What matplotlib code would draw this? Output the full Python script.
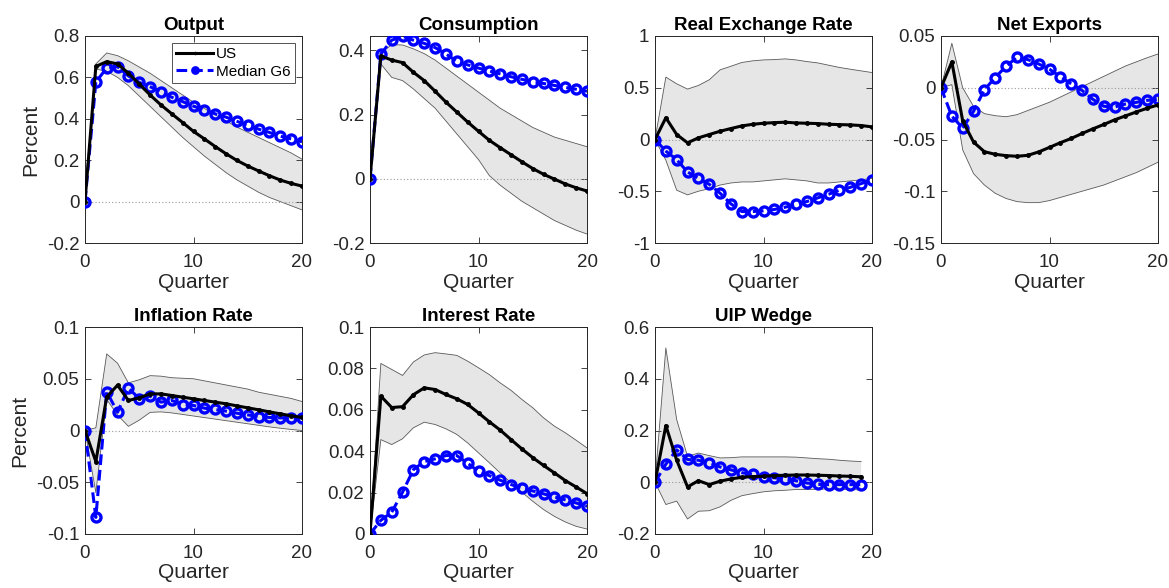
import numpy as np
import matplotlib
matplotlib.use("Agg")
import matplotlib.pyplot as plt

plt.rcParams['font.family'] = ['Liberation Sans', 'DejaVu Sans']

quarters = list(range(21))
quarters_uip = list(range(20))

titles = ["Output", "Consumption", "Real Exchange Rate", "Net Exports",
          "Inflation Rate", "Interest Rate", "UIP Wedge"]

# ---- Output
out_us = [0, 0.653, 0.676, 0.665, 0.620, 0.568, 0.515, 0.467, 0.424, 0.382, 0.339,
          0.303, 0.266, 0.231, 0.199, 0.172, 0.148, 0.125, 0.104, 0.088, 0.075]
out_g6 = [0, 0.578, 0.645, 0.652, 0.607, 0.576, 0.555, 0.530, 0.504, 0.483, 0.461,
          0.443, 0.424, 0.408, 0.388, 0.368, 0.350, 0.334, 0.316, 0.303, 0.289]
out_hi = [0, 0.665, 0.718, 0.705, 0.680, 0.650, 0.620, 0.585, 0.550, 0.515, 0.480,
          0.450, 0.420, 0.390, 0.360, 0.335, 0.310, 0.285, 0.260, 0.235, 0.205]
out_lo = [0, 0.640, 0.630, 0.600, 0.560, 0.510, 0.460, 0.410, 0.360, 0.310, 0.265,
          0.220, 0.180, 0.140, 0.105, 0.075, 0.045, 0.020, 0.000, -0.020, -0.040]

# ---- Consumption
con_us = [0, 0.383, 0.370, 0.362, 0.332, 0.306, 0.273, 0.239, 0.208, 0.177, 0.148,
          0.120, 0.097, 0.075, 0.053, 0.032, 0.014, -0.001, -0.016, -0.028, -0.038]
con_g6 = [0, 0.389, 0.432, 0.444, 0.432, 0.422, 0.409, 0.389, 0.366, 0.355, 0.345,
          0.336, 0.327, 0.318, 0.310, 0.303, 0.297, 0.291, 0.285, 0.279, 0.273]
con_hi = [0, 0.392, 0.418, 0.417, 0.405, 0.390, 0.370, 0.345, 0.320, 0.295, 0.270,
          0.245, 0.220, 0.200, 0.180, 0.160, 0.145, 0.130, 0.120, 0.110, 0.100]
con_lo = [0, 0.358, 0.316, 0.306, 0.280, 0.250, 0.220, 0.180, 0.140, 0.100, 0.060,
          0.010, -0.020, -0.045, -0.070, -0.090, -0.110, -0.130, -0.145, -0.160, -0.172]

# ---- Real exchange rate
rer_us = [0, 0.210, 0.048, -0.032, 0.016, 0.048, 0.080, 0.106, 0.131, 0.147, 0.157,
          0.163, 0.167, 0.160, 0.157, 0.154, 0.147, 0.144, 0.141, 0.135, 0.122]
rer_g6 = [0, -0.112, -0.195, -0.314, -0.375, -0.433, -0.519, -0.622, -0.696, -0.696, -0.689,
          -0.676, -0.654, -0.628, -0.599, -0.564, -0.529, -0.490, -0.462, -0.426, -0.391]
rer_hi = [0, 0.603, 0.538, 0.487, 0.522, 0.577, 0.673, 0.708, 0.744, 0.760, 0.769,
          0.772, 0.779, 0.769, 0.753, 0.740, 0.718, 0.696, 0.679, 0.663, 0.647]
rer_lo = [0, -0.200, -0.490, -0.535, -0.500, -0.475, -0.440, -0.420, -0.410, -0.410, -0.400,
          -0.390, -0.380, -0.390, -0.400, -0.420, -0.420, -0.410, -0.400, -0.390, -0.375]

# ---- Net exports
nx_us = [0, 0.025, -0.032, -0.0525, -0.0618, -0.0643, -0.0656, -0.0662, -0.0653, -0.062, -0.0576,
         -0.0531, -0.049, -0.0442, -0.0397, -0.0355, -0.031, -0.0272, -0.0234, -0.0198, -0.0166]
nx_g6 = [0, -0.0275, -0.039, -0.0227, -0.0019, 0.0099, 0.0208, 0.0294, 0.0272, 0.023, 0.0179,
         0.0106, 0.0038, -0.0026, -0.0112, -0.0179, -0.0186, -0.0157, -0.0141, -0.0122, -0.0112]
nx_hi = [0, 0.043, 0.000, -0.018, -0.025, -0.027, -0.028, -0.026, -0.022, -0.018, -0.014,
         -0.009, -0.004, 0.001, 0.006, 0.011, 0.016, 0.021, 0.025, 0.029, 0.0326]
nx_lo = [0, 0.003, -0.060, -0.083, -0.094, -0.102, -0.107, -0.110, -0.111, -0.111, -0.109,
         -0.106, -0.103, -0.100, -0.097, -0.094, -0.090, -0.086, -0.082, -0.077, -0.072]

# ---- Inflation
inf_us = [0, -0.030, 0.0325, 0.0438, 0.029, 0.0316, 0.0354, 0.0354, 0.0338, 0.0322, 0.0306,
          0.029, 0.0274, 0.0258, 0.0238, 0.0219, 0.020, 0.018, 0.0161, 0.0142, 0.0126]
inf_g6 = [0, -0.084, 0.0374, 0.0177, 0.0409, 0.0309, 0.0332, 0.0274, 0.029, 0.0251, 0.0242,
          0.0216, 0.0203, 0.0187, 0.0167, 0.0151, 0.0135, 0.0126, 0.0122, 0.0122, 0.0122]
inf_hi = [0, 0.0026, 0.074, 0.065, 0.046, 0.049, 0.053, 0.0525, 0.051, 0.0505, 0.050,
          0.048, 0.046, 0.044, 0.042, 0.040, 0.037, 0.035, 0.033, 0.031, 0.028]
inf_lo = [0, -0.060, 0.030, 0.015, 0.004, 0.010, 0.0175, 0.018, 0.017, 0.0155, 0.014,
          0.0125, 0.011, 0.0095, 0.008, 0.0065, 0.005, 0.0035, 0.0022, 0.001, 0.000]

# ---- Interest rate
ir_us = [0, 0.0666, 0.0611, 0.0615, 0.0673, 0.0706, 0.0698, 0.0674, 0.0653, 0.0626, 0.0585,
         0.0542, 0.0502, 0.0456, 0.0411, 0.0369, 0.0331, 0.0295, 0.0258, 0.0227, 0.0195]
ir_g6 = [0, 0.0066, 0.0105, 0.0202, 0.0311, 0.035, 0.0363, 0.0379, 0.0379, 0.0342, 0.0302,
         0.0282, 0.026, 0.0239, 0.0221, 0.0208, 0.0194, 0.0179, 0.0165, 0.015, 0.0134]
ir_hi = [0, 0.0824, 0.0795, 0.0766, 0.0831, 0.0865, 0.0876, 0.087, 0.0863, 0.0835, 0.0803,
         0.077, 0.073, 0.0694, 0.065, 0.061, 0.0561, 0.0521, 0.0489, 0.0453, 0.0416]
ir_lo = [0, 0.0456, 0.0432, 0.046, 0.0513, 0.054, 0.0529, 0.0508, 0.0481, 0.044, 0.0392,
         0.0344, 0.0295, 0.0247, 0.0202, 0.0158, 0.0118, 0.0085, 0.0058, 0.0037, 0.0024]

# ---- UIP wedge (quarters 0..19)
uip_us = [0, 0.219, 0.085, -0.018, 0.006, -0.009, 0.004, 0.013, 0.019, 0.022, 0.023,
          0.026, 0.027, 0.028, 0.028, 0.027, 0.026, 0.024, 0.023, 0.021]
uip_g6 = [0, 0.070, 0.125, 0.088, 0.085, 0.075, 0.059, 0.048, 0.037, 0.030, 0.022,
          0.017, 0.013, 0.006, -0.003, -0.008, -0.009, -0.009, -0.009, -0.009]
uip_hi = [0, 0.519, 0.242, 0.100, 0.113, 0.103, 0.094, 0.095, 0.098, 0.098, 0.098,
          0.098, 0.098, 0.097, 0.094, 0.091, 0.089, 0.085, 0.082, 0.080]
uip_lo = [0, -0.086, -0.073, -0.142, -0.112, -0.110, -0.095, -0.070, -0.052, -0.044, -0.037,
          -0.033, -0.031, -0.028, -0.028, -0.027, -0.026, -0.027, -0.028, -0.030]

panels = [
    (quarters, out_us, out_g6, out_hi, out_lo, (-0.2, 0.8), [-0.2, 0, 0.2, 0.4, 0.6, 0.8]),
    (quarters, con_us, con_g6, con_hi, con_lo, (-0.2, 0.445), [-0.2, 0, 0.2, 0.4]),
    (quarters, rer_us, rer_g6, rer_hi, rer_lo, (-1, 1), [-1, -0.5, 0, 0.5, 1]),
    (quarters, nx_us, nx_g6, nx_hi, nx_lo, (-0.15, 0.05), [-0.15, -0.1, -0.05, 0, 0.05]),
    (quarters, inf_us, inf_g6, inf_hi, inf_lo, (-0.1, 0.1), [-0.1, -0.05, 0, 0.05, 0.1]),
    (quarters, ir_us, ir_g6, ir_hi, ir_lo, (0, 0.1), [0, 0.02, 0.04, 0.06, 0.08, 0.1]),
    (quarters_uip, uip_us, uip_g6, uip_hi, uip_lo, (-0.2, 0.6), [-0.2, 0, 0.2, 0.4, 0.6]),
]

def fmt(v):
    return '%g' % v

fig = plt.figure(figsize=(11.69, 5.88), dpi=100)
W, H = 1169, 588
lefts = [85, 370, 655, 941]
axw = 217
tops = [36, 327]
axh = 207
axc = (0.15, 0.15, 0.15)

for i, (x, us, g6, hi, lo, yl, yt) in enumerate(panels):
    r, c = divmod(i, 4)
    ax = fig.add_axes([lefts[c] / W, 1 - (tops[r] + axh) / H, axw / W, axh / H])
    ax.fill_between(x, lo, hi, facecolor=(0.9, 0.9, 0.9), edgecolor='none', zorder=1)
    ax.plot(x, hi, color=(0.35, 0.35, 0.35), lw=0.6, zorder=2)
    ax.plot(x, lo, color=(0.35, 0.35, 0.35), lw=0.6, zorder=2)
    ax.axhline(0, color=(0.6, 0.6, 0.6), lw=0.8, ls=(0, (1, 2)), zorder=2)
    l2, = ax.plot(x, g6, color='blue', lw=2.2, ls=(0, (3.5, 1.6)), marker='o', ms=6.5,
                  mfc='none', mec='blue', mew=2.4, zorder=3, label='Median G6')
    l1, = ax.plot(x, us, color='black', lw=2.2, marker='.', ms=5, zorder=4, label='US')
    ax.set_xlim(0, 20)
    ax.set_ylim(*yl)
    ax.set_xticks([0, 10, 20])
    ax.set_yticks(yt)
    ax.set_yticklabels([fmt(v) for v in yt])
    ax.tick_params(direction='in', top=True, right=True, length=4, width=0.6,
                   labelsize=13.5, colors=axc)
    ax.tick_params(axis='x', pad=8)
    ax.tick_params(axis='y', pad=4)
    for sp in ax.spines.values():
        sp.set_color(axc)
        sp.set_linewidth(0.7)
    ax.set_title(titles[i], fontsize=13.5, fontweight='bold', pad=4)
    ax.set_xlabel('Quarter', fontsize=15, color=axc, labelpad=1)
    if c == 0:
        ax.set_ylabel('Percent', fontsize=15, color=axc, labelpad=5)
    if i == 0:
        leg = ax.legend(handles=[l1, l2], loc='upper right', fontsize=11,
                        frameon=True, fancybox=False, borderpad=0.3,
                        handlelength=2.4, handletextpad=0.2, labelspacing=0.2,
                        borderaxespad=0.45, markerscale=0.6)
        leg.get_frame().set_edgecolor(axc)
        leg.get_frame().set_linewidth(0.7)

fig.savefig('out.png', dpi=100)
